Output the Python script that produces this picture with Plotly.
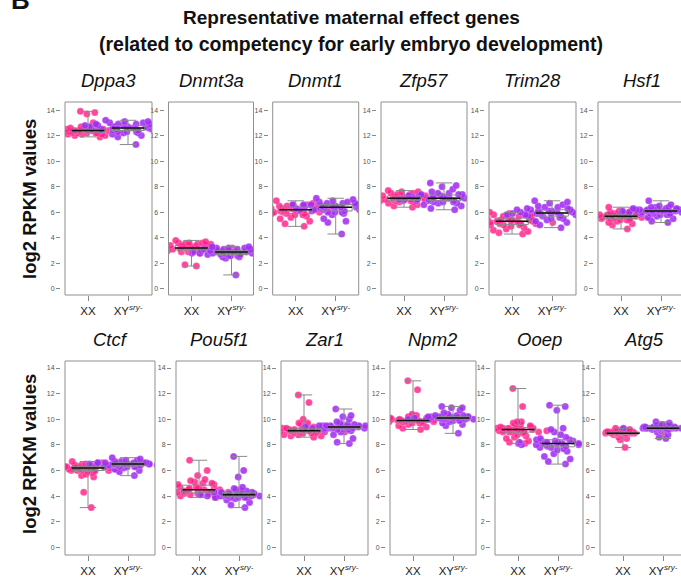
import plotly.graph_objects as go
import numpy as np

genes_row1 = ["Dppa3", "Dnmt3a", "Dnmt1", "Zfp57", "Trim28", "Hsf1"]
genes_row2 = ["Ctcf", "Pou5f1", "Zar1", "Npm2", "Ooep", "Atg5"]
group_labels = ["XX", "XY<sup><i>sry-</i></sup>"]
y_ticks = [0, 2, 4, 6, 8, 10, 12, 14]

Dppa3_XX = [12.3,12.4,12.2,12.5,12.1,12.6,12.3,12.4,12.0,12.2,12.5,12.3,12.7,12.1,12.4,12.2,12.6,12.3,11.9,12.5,12.4,12.2,12.3,12.6,12.1,12.4,12.5,12.2,12.3,12.0,12.6,12.4,12.3,12.5,12.2,13.0,13.7,13.8,13.9,12.4]
Dppa3_XY = [12.7,12.5,12.9,12.3,13.0,12.6,12.8,12.4,13.2,12.1,12.7,12.9,12.5,12.3,12.8,12.6,13.1,12.2,12.0,12.7,12.4,12.9,12.6,12.8,12.5,13.0,12.3,12.7,11.9,12.6,12.8,12.4,12.5,13.1,12.2,12.7,11.3,12.9,12.6,12.5]
Dnmt3a_XX = [3.2,3.4,3.0,3.5,3.1,3.3,2.9,3.6,3.2,3.4,3.0,3.7,3.1,3.3,2.8,3.5,3.2,3.4,3.0,3.8,3.1,3.3,3.2,3.6,2.9,3.4,3.1,3.5,3.0,3.3,3.2,3.4,3.6,3.1,3.0,3.3,1.8,1.9,3.2,3.5]
Dnmt3a_XY = [2.9,3.1,2.7,3.0,2.8,3.2,2.6,2.9,3.3,2.5,3.0,2.8,2.4,3.1,2.9,2.7,3.0,3.2,2.6,2.9,2.8,3.1,2.5,3.0,2.7,2.9,3.3,2.8,2.6,3.0,2.9,3.1,2.7,1.1,2.8,3.0,2.9,2.6,3.2,2.8]
Dnmt1_XX = [6.2,6.4,6.0,6.5,5.9,6.3,6.1,6.6,5.8,6.2,6.4,6.0,6.7,5.7,6.3,6.1,6.5,5.9,6.2,6.4,5.5,6.0,6.3,6.1,5.3,6.6,6.2,5.1,6.4,5.9,4.9,6.2,6.9,6.0,6.3,5.6,6.1,6.5,6.2,5.8]
Dnmt1_XY = [6.4,6.6,6.2,6.8,6.0,6.5,6.3,7.0,5.9,6.4,6.7,6.1,6.9,6.3,6.5,5.8,6.6,6.2,6.4,7.1,6.0,6.5,5.5,6.3,6.7,5.2,6.4,6.1,6.6,5.3,6.8,6.2,6.5,4.3,6.4,6.0,6.7,6.3,6.6,6.2]
Zfp57_XX = [7.1,7.3,6.9,7.4,7.0,7.2,6.8,7.5,7.1,7.3,6.7,7.6,7.0,7.2,6.9,7.4,7.1,6.6,7.3,7.7,7.0,7.2,6.5,7.4,7.1,6.9,7.3,6.4,7.2,7.0,7.5,7.1,6.8,7.3,7.2,7.0,7.6,6.9,7.1,7.3]
Zfp57_XY = [7.0,7.2,6.8,7.4,6.9,7.1,6.7,7.5,7.0,7.3,6.6,7.2,6.9,7.1,6.5,7.4,7.0,6.8,7.6,6.3,7.2,7.0,8.1,6.9,7.3,8.3,6.2,7.1,8.0,7.0,6.7,7.8,7.2,7.4,6.9,7.1,7.3,6.8,7.5,7.0]
Trim28_XX = [5.3,5.5,5.1,5.7,5.2,5.4,5.0,5.8,5.3,5.6,4.9,5.9,5.2,5.4,4.8,6.0,5.3,5.5,4.7,5.7,5.1,5.4,4.6,5.6,5.2,5.3,4.5,5.8,5.0,5.4,4.4,5.9,5.3,5.1,4.3,5.6,5.2,5.5,5.0,5.3]
Trim28_XY = [5.9,6.1,5.7,6.3,5.8,6.0,5.5,6.4,5.9,6.2,5.4,6.6,5.8,6.0,5.3,6.8,5.9,6.1,5.2,6.5,5.7,6.0,5.0,6.9,5.8,6.2,4.8,6.3,5.6,6.1,5.9,6.7,5.5,6.0,6.2,5.8,6.4,5.9,6.1,5.7]
Hsf1_XX = [5.7,5.8,5.5,5.9,5.6,5.7,5.4,6.0,5.6,5.8,5.3,6.1,5.7,5.5,5.2,5.9,5.6,5.8,5.1,6.2,5.7,5.5,5.0,6.4,5.6,5.8,4.7,5.9,5.7,5.4,5.6,6.0,5.8,5.5,5.7,5.6,5.9,5.4,5.7,5.8]
Hsf1_XY = [6.1,6.2,5.9,6.3,6.0,6.1,5.8,6.4,6.0,6.2,5.7,6.5,6.1,5.9,5.5,6.3,6.0,6.2,5.3,6.6,6.1,5.8,5.2,6.9,6.0,6.2,5.6,6.4,6.1,5.9,6.0,6.3,6.2,5.8,6.1,6.0,6.4,5.9,6.1,6.2]
Ctcf_XX = [6.2,6.3,6.0,6.4,6.1,6.2,5.9,6.5,6.1,6.3,5.8,6.6,6.2,6.0,5.7,6.4,6.1,6.3,5.6,6.7,6.2,6.0,5.5,6.5,6.1,6.3,6.2,6.0,6.4,6.1,6.2,5.9,6.3,6.1,4.3,3.1,6.2,6.0,6.4,6.2]
Ctcf_XY = [6.5,6.4,6.6,6.3,6.7,6.5,6.2,6.8,6.4,6.6,6.1,6.9,6.5,6.3,5.9,6.7,6.4,6.6,5.6,7.0,6.5,6.3,6.0,6.8,6.4,6.5,6.6,6.4,6.5,6.3,6.5,6.4,6.6,6.5,6.4,6.5,6.3,6.5,6.4,6.6]
Pou5f1_XX = [4.5,4.3,4.7,4.2,4.9,4.4,4.1,5.0,4.6,4.3,4.0,5.1,4.5,4.2,3.9,5.2,4.4,4.6,4.1,4.8,4.3,4.5,4.0,5.3,4.4,4.7,4.2,5.0,4.3,4.5,4.1,5.6,4.6,6.0,6.8,4.4,4.2,4.9,4.3,4.5]
Pou5f1_XY = [4.1,4.0,4.3,3.9,4.4,4.1,3.8,4.5,4.0,4.2,3.7,4.6,4.1,3.9,3.5,4.7,4.0,4.2,3.3,4.3,4.1,3.9,3.1,4.4,4.0,4.2,5.5,6.0,7.1,4.1,3.9,4.0,4.2,4.1,4.0,4.3,3.9,4.1,4.0,4.2]
Zar1_XX = [9.1,9.2,8.9,9.3,9.0,9.1,8.8,9.4,9.0,9.2,8.7,9.5,9.1,8.9,8.6,9.6,9.0,9.2,8.7,9.7,9.1,8.9,9.0,9.3,9.1,9.0,9.2,8.8,9.7,10.0,11.3,11.9,9.1,9.0,9.2,9.1,8.9,9.3,9.0,9.1]
Zar1_XY = [9.4,9.5,9.2,9.6,9.3,9.4,9.1,9.7,9.3,9.5,9.0,9.8,9.4,9.2,8.8,10.0,9.3,9.5,8.5,10.2,9.4,9.2,8.2,10.3,9.3,9.5,8.1,10.8,9.4,9.3,9.5,9.4,9.6,9.3,9.4,9.5,9.2,9.4,9.3,9.5]
Npm2_XX = [9.9,10.0,9.7,10.1,9.8,9.9,9.6,10.2,9.8,10.0,9.5,10.3,9.9,9.7,9.4,10.4,9.8,10.0,9.3,10.1,9.9,9.7,9.2,10.2,9.8,10.0,9.9,9.8,10.0,9.9,12.3,13.0,9.9,10.0,9.8,9.9,10.1,9.9,10.0,9.8]
Npm2_XY = [10.1,10.2,9.9,10.3,10.0,10.1,9.8,10.4,10.0,10.2,9.7,10.5,10.1,9.9,9.6,10.7,10.0,10.2,9.5,10.9,10.1,9.9,8.9,11.0,10.0,10.2,10.1,10.0,10.3,10.1,10.0,10.2,10.1,10.0,10.1,10.2,10.0,10.1,10.9,10.3]
Ooep_XX = [9.2,9.3,9.0,9.4,9.1,9.2,8.9,9.5,9.1,9.3,8.8,9.6,9.2,9.0,8.7,9.7,9.1,9.3,8.6,9.8,9.2,9.0,8.5,9.8,9.1,9.3,8.3,9.6,9.0,9.2,8.1,9.4,9.1,8.2,11.0,12.4,9.2,9.0,9.3,9.1]
Ooep_XY = [8.1,8.3,7.9,8.4,8.0,8.2,7.7,8.5,8.0,8.3,7.5,8.6,8.1,7.8,7.3,8.8,8.0,8.2,7.1,9.0,8.1,7.9,6.9,9.2,8.0,8.2,6.7,9.3,7.6,8.1,6.5,8.4,10.7,11.0,11.1,8.0,8.2,7.8,8.3,8.1]
Atg5_XX = [8.9,9.0,8.8,9.1,8.9,9.0,8.7,9.2,8.9,9.0,8.6,9.3,8.9,8.8,8.5,9.2,8.9,9.0,8.4,9.1,8.9,8.8,7.8,9.0,8.9,9.0,8.9,8.8,9.0,8.9,9.1,8.9,9.0,8.8,8.9,9.0,8.9,9.1,8.9,9.0]
Atg5_XY = [9.3,9.4,9.2,9.5,9.3,9.4,9.1,9.5,9.2,9.4,9.0,9.6,9.3,9.2,8.8,9.7,9.3,9.4,8.5,9.8,9.3,9.2,8.6,9.5,9.3,9.4,9.3,9.2,9.4,9.3,9.3,9.4,9.2,9.3,9.4,9.3,9.2,9.4,9.3,9.5]

data = {
    "Dppa3": (Dppa3_XX, Dppa3_XY), "Dnmt3a": (Dnmt3a_XX, Dnmt3a_XY),
    "Dnmt1": (Dnmt1_XX, Dnmt1_XY), "Zfp57": (Zfp57_XX, Zfp57_XY),
    "Trim28": (Trim28_XX, Trim28_XY), "Hsf1": (Hsf1_XX, Hsf1_XY),
    "Ctcf": (Ctcf_XX, Ctcf_XY), "Pou5f1": (Pou5f1_XX, Pou5f1_XY),
    "Zar1": (Zar1_XX, Zar1_XY), "Npm2": (Npm2_XX, Npm2_XY),
    "Ooep": (Ooep_XX, Ooep_XY), "Atg5": (Atg5_XX, Atg5_XY),
}

W, H = 681, 580
FONT = "Liberation Sans, Arial, sans-serif"
PINK = "rgba(255,30,135,0.82)"
PURPLE = "rgba(160,45,240,0.88)"

row1_left = [65, 168.5, 272.7, 381, 489, 598]
row1_w = [87, 85, 86, 86, 87, 87]
row2_left = [65, 176, 281, 390, 495, 600]
row2_w = [90, 86, 87, 86, 88, 87]
rows = [(genes_row1, row1_left, row1_w, 102, 295, [-0.47, 14.63], 80),
        (genes_row2, row2_left, row2_w, 361, 555, [-0.6, 14.55], 340)]

fig = go.Figure()
layout = dict(width=W, height=H, margin=dict(l=0, r=0, t=0, b=0),
              paper_bgcolor="white", plot_bgcolor="white", showlegend=False,
              boxmode="overlay", font=dict(family=FONT))
shapes, annotations = [], []
UPP = 1 / 40.0  # x data units per pixel
k = 0
for genes, lefts, widths, top, bot, yr, title_y in rows:
    for gene, left, w in zip(genes, lefts, widths):
        k += 1
        sfx = "" if k == 1 else str(k)
        xa, ya = f"x{sfx}", f"y{sfx}"
        right = min(left + w, W)
        vis_w = right - left
        layout[f"xaxis{sfx}"] = dict(
            domain=[left / W, right / W], anchor=ya,
            range=[-0.575, -0.575 + vis_w * UPP],
            tickvals=[0, 1], ticktext=group_labels, ticks="outside", ticklen=5,
            tickcolor="#888", tickfont=dict(size=11.5, color="#222", family=FONT),
            showgrid=False, zeroline=False, showline=False, fixedrange=True)
        layout[f"yaxis{sfx}"] = dict(
            domain=[1 - bot / H, 1 - top / H], anchor="free",
            position=(left - 5) / W, range=yr, tickvals=y_ticks,
            ticks="outside", ticklen=4, tickcolor="#888",
            tickfont=dict(size=7, color="#555", family=FONT),
            showgrid=False, zeroline=False, showline=False, fixedrange=True)
        x1 = w / vis_w
        shapes.append(dict(type="rect", xref=f"{xa} domain", yref=f"{ya} domain",
                           x0=0, x1=x1, y0=0, y1=1,
                           line=dict(color="#8f8f8f", width=1)))
        annotations.append(dict(text=f"<i>{gene}</i>", x=(left + w / 2) / W,
                                y=1 - title_y / H, xref="paper", yref="paper",
                                showarrow=False, xanchor="center", yanchor="middle",
                                font=dict(size=18.5, color="#111", family=FONT)))
        xx, xy = data[gene]
        for pos, vals, col in [(0, xx, PINK), (1, xy, PURPLE)]:
            vals = list(vals)
            fig.add_trace(go.Box(
                x=[pos] * len(vals), y=vals, xaxis=xa, yaxis=ya,
                boxpoints="all", jitter=1.0, pointpos=0, width=2.3,
                line=dict(width=0, color="rgba(0,0,0,0)"),
                fillcolor="rgba(0,0,0,0)",
                marker=dict(color=col, size=7,
                            line=dict(color="rgba(255,255,255,0.45)", width=0.5)),
                hoverinfo="skip"))
        for pos, vals in [(0, xx), (1, xy)]:
            fig.add_trace(go.Box(
                x=[pos] * len(vals), y=list(vals), xaxis=xa, yaxis=ya,
                boxpoints=False, width=0.82, whiskerwidth=0.5,
                line=dict(width=1, color="#8a8a8a"),
                fillcolor="rgba(0,0,0,0)", hoverinfo="skip"))
            med = float(np.median(vals))
            fig.add_trace(go.Scatter(
                x=[pos - 0.41, pos + 0.41], y=[med, med], xaxis=xa, yaxis=ya,
                mode="lines", line=dict(color="#111", width=1.5), hoverinfo="skip"))

annotations += [
    dict(text="<b>Representative maternal effect genes</b>", x=351 / W, y=1 - 18 / H,
         xref="paper", yref="paper", showarrow=False, xanchor="center", yanchor="middle",
         font=dict(size=19, color="#111", family=FONT)),
    dict(text="<b>(related to competency for early embryo development)</b>", x=351 / W,
         y=1 - 44 / H, xref="paper", yref="paper", showarrow=False, xanchor="center",
         yanchor="middle", font=dict(size=19.5, color="#111", family=FONT)),
    dict(text="<b>B</b>", x=20 / W, y=1.0, xref="paper", yref="paper", showarrow=False,
         xanchor="center", yanchor="middle", font=dict(size=26, color="#111", family=FONT)),
    dict(text="<b>log2 RPKM values</b>", x=29 / W, y=1 - 199 / H, xref="paper",
         yref="paper", showarrow=False, textangle=-90, xanchor="center",
         yanchor="middle", font=dict(size=18.5, color="#111", family=FONT)),
    dict(text="<b>log2 RPKM values</b>", x=29 / W, y=1 - 454 / H, xref="paper",
         yref="paper", showarrow=False, textangle=-90, xanchor="center",
         yanchor="middle", font=dict(size=18.5, color="#111", family=FONT)),
]
layout["shapes"] = shapes
layout["annotations"] = annotations
fig.update_layout(**layout)
fig.write_html("out.html", config={"displayModeBar": False},
               post_script="document.body.style.margin='0';document.body.style.overflow='hidden';")
